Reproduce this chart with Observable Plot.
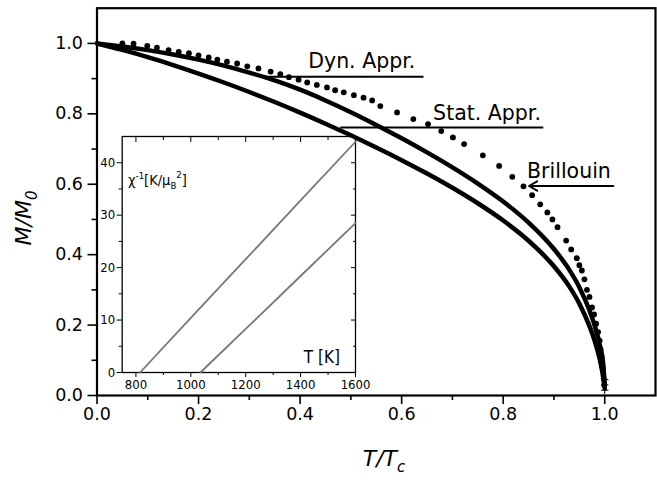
<!DOCTYPE html>
<html><head><meta charset="utf-8">
<script src="https://cdn.jsdelivr.net/npm/d3@7"></script>
<script src="https://cdn.jsdelivr.net/npm/@observablehq/plot@0.6"></script>
<style>
body{margin:0;background:#fff;}
#wrap{position:relative;width:657px;height:480px;background:#fff;}
#wrap svg{position:absolute;}
</style></head><body><div id="wrap"></div>
<script>
// Brillouin (dots)
const brillT = [0.05,0.072,0.099,0.118,0.141,0.161,0.181,0.200,0.220,0.237,0.256,0.276,0.296,0.318,0.342,0.361,0.378,0.397,0.414,0.433,0.453,0.469,0.486,0.506,0.525,0.542,0.558,0.591,0.623,0.652,0.678,0.701,0.723,0.760,0.792,0.818,0.840,0.857,0.873,0.887,0.897,0.907,0.924,0.934,0.945,0.950,0.955,0.960,0.965,0.970,0.975,0.979,0.983,0.987,0.990,0.992,0.994,0.996,0.998,0.999];
const brillM = [1.0,0.999,0.993,0.988,0.981,0.976,0.972,0.966,0.960,0.954,0.948,0.943,0.935,0.929,0.920,0.913,0.904,0.897,0.889,0.882,0.875,0.867,0.861,0.853,0.846,0.838,0.822,0.804,0.785,0.771,0.751,0.733,0.714,0.682,0.652,0.621,0.594,0.569,0.543,0.520,0.500,0.478,0.440,0.415,0.39,0.37,0.355,0.33,0.30,0.28,0.25,0.23,0.204,0.18,0.156,0.13,0.109,0.08,0.048,0.03];
// Dynamical approximation (upper solid)
const dynT = [0,0.05,0.1,0.15,0.2,0.25,0.3,0.35,0.4,0.45,0.5,0.55,0.6,0.65,0.7,0.75,0.8,0.85,0.9,0.93,0.95,0.97,0.98,0.99,0.997,1.0];
const dynM = [1.0,0.9915,0.981,0.9685,0.954,0.937,0.917,0.895,0.8685,0.838,0.8045,0.7685,0.7305,0.6905,0.648,0.602,0.551,0.491,0.416,0.3575,0.3075,0.2415,0.1995,0.1455,0.0895,0.03];
// Statistical approximation (lower solid)
const statT = [0,0.05,0.1,0.15,0.2,0.25,0.3,0.35,0.4,0.45,0.5,0.55,0.6,0.65,0.7,0.75,0.8,0.85,0.9,0.93,0.95,0.97,0.98,0.99,0.997,1.0];
const statM = [1.0,0.9815,0.961,0.9385,0.9145,0.889,0.862,0.8335,0.8035,0.772,0.739,0.7045,0.6685,0.6305,0.590,0.546,0.497,0.4395,0.367,0.310,0.261,0.197,0.156,0.104,0.0515,0.02];
// tail markers (+)
const tailT = [1.0,1.0,1.0];
const tailM = [0.045,0.03,0.015];
// annotations
const labelText = ["Dyn. Appr.","Stat. Appr.","Brillouin"];
const labelT = [0.416,0.662,0.847];
const labelM = [0.93,0.782,0.617];
const leaderT1 = [0.328,0.479];
const leaderT2 = [0.643,0.879];
const leaderM = [0.905,0.761];
const arrowT1 = [1.017], arrowT2 = [0.851], arrowM = [0.595];
// axes ticks
const xMajor = [0,0.2,0.4,0.6,0.8,1.0];
const xMinor = [0.1,0.3,0.5,0.7,0.9];
const yMajor = [0,0.2,0.4,0.6,0.8,1.0];
const yMinor = [0.1,0.3,0.5,0.7,0.9];
// inset: inverse susceptibility
const lineA_T = [815,1000,1200,1400,1600];
const lineA_chi = [0,10.4,21.6,32.8,44];
const lineB_T = [1035,1200,1400,1600];
const lineB_chi = [0,8.3,18.4,28.5];
const insetXMajor = [800,1000,1200,1400,1600];
const insetXMinor = [900,1100,1300,1500];
const insetYMajor = [0,10,20,30,40];
const insetYMinor = [5,15,25,35];

const zip = (a,b) => a.map((v,i)=>({x:v,y:b[i]}));
const brill = zip(brillT, brillM), dyn = zip(dynT, dynM), stat = zip(statT, statM), tail = zip(tailT, tailM);
const labels = labelText.map((t,i)=>({t, x:labelT[i], y:labelM[i]}));
const leaders = leaderT1.map((v,i)=>({x1:v, x2:leaderT2[i], y:leaderM[i]}));
const arrows = arrowT1.map((v,i)=>({x1:v, x2:arrowT2[i], y:arrowM[i]}));
const blank = () => "";
const SANS = "'DejaVu Sans', 'Liberation Sans', sans-serif";

const main = Plot.plot({
  width: 657, height: 480,
  marginLeft: 96.5, marginRight: 2, marginTop: 7.7, marginBottom: 85,
  x: {domain: [0, 1.1]}, y: {domain: [0, 1.1]},
  style: {fontFamily: SANS, fontSize: "17.5px", color: "#000", background: "transparent"},
  marks: [
    Plot.axisX(xMajor, {tickSize: 9, tickPadding: 3, tickFormat: d3.format(".1f"), strokeWidth: 1.6, label: null}),
    Plot.axisX(xMinor, {tickSize: 5, tickFormat: blank, strokeWidth: 1.6, label: null}),
    Plot.axisY(yMajor, {tickSize: 9, tickPadding: 5, tickFormat: d3.format(".1f"), strokeWidth: 1.6, label: null}),
    Plot.axisY(yMinor, {tickSize: 5, tickFormat: blank, strokeWidth: 1.6, label: null}),
    Plot.frame({strokeWidth: 2.2}),
    Plot.line(stat, {x: "x", y: "y", strokeWidth: 4.5, stroke: "#000", curve: "monotone-x"}),
    Plot.line(dyn, {x: "x", y: "y", strokeWidth: 4.5, stroke: "#000", curve: "monotone-x"}),
    Plot.dot(tail, {x: "x", y: "y", symbol: "plus", r: 2.5, stroke: "#000", strokeWidth: 1}),
    Plot.dot(brill, {x: "x", y: "y", r: 2.9, fill: "#000", stroke: null}),
    Plot.link(leaders, {x1: "x1", x2: "x2", y1: "y", y2: "y", strokeWidth: 2, stroke: "#000"}),
    Plot.arrow(arrows, {x1: "x1", x2: "x2", y1: "y", y2: "y", strokeWidth: 2, stroke: "#000", headLength: 7}),
    Plot.text(labels, {x: "x", y: "y", text: "t", textAnchor: "start", lineAnchor: "bottom", fontSize: 20.5, fill: "#000"})
  ]
});

const wrap = document.getElementById("wrap");
main.style.left = "0px"; main.style.top = "0px";
wrap.appendChild(main);

// axis titles with sub-scripts
const ms = d3.select(main);
const yl = ms.append("text").attr("transform", "translate(31,218) rotate(-90)")
  .attr("text-anchor", "middle").attr("font-style", "italic").attr("font-size", 22)
  .attr("font-family", SANS).attr("fill", "#000");
yl.append("tspan").text("M/M");
yl.append("tspan").attr("dy", 6).attr("font-size", 15).text("0");
const xl = ms.append("text").attr("x", 384).attr("y", 466)
  .attr("text-anchor", "middle").attr("font-style", "italic").attr("font-size", 22)
  .attr("font-family", SANS).attr("fill", "#000");
xl.append("tspan").text("T/T");
xl.append("tspan").attr("dy", 6).attr("font-size", 15).text("c");

// inset
const NARROW = "'Liberation Sans Narrow','DejaVu Sans Condensed',sans-serif";
const inset = Plot.plot({
  width: 265, height: 265, marginLeft: 25.7, marginRight: 6, marginTop: 8, marginBottom: 21,
  x: {domain: [750, 1600]}, y: {domain: [0, 45]},
  style: {fontFamily: NARROW, fontSize: "13px", color: "#000", background: "transparent", overflow: "visible"},
  marks: [
    Plot.axisX(insetXMajor, {anchor: "bottom", tickSize: 5, tickPadding: 2, tickFormat: d => String(d), label: null}),
    Plot.axisX(insetXMinor, {anchor: "bottom", tickSize: 3, tickFormat: blank, label: null}),
    Plot.axisX(insetXMajor, {anchor: "top", tickSize: -5, tickFormat: blank, label: null}),
    Plot.axisX(insetXMinor, {anchor: "top", tickSize: -3, tickFormat: blank, label: null}),
    Plot.axisY(insetYMajor, {anchor: "left", tickSize: 5, tickPadding: 2, tickFormat: d => String(d), label: null}),
    Plot.axisY(insetYMinor, {anchor: "left", tickSize: 3, tickFormat: blank, label: null}),
    Plot.axisY(insetYMajor, {anchor: "right", tickSize: -5, tickFormat: blank, label: null}),
    Plot.axisY(insetYMinor, {anchor: "right", tickSize: -3, tickFormat: blank, label: null}),
    Plot.frame({strokeWidth: 1.3}),
    Plot.line(zip(lineA_T, lineA_chi), {x: "x", y: "y", stroke: "#777", strokeWidth: 1.8}),
    Plot.line(zip(lineB_T, lineB_chi), {x: "x", y: "y", stroke: "#777", strokeWidth: 1.8})
  ]
});
inset.style.left = "96px"; inset.style.top = "128px";
wrap.appendChild(inset);
const is = d3.select(inset);
const il = is.append("text").attr("x", 32).attr("y", 57).attr("text-anchor", "start")
  .attr("font-size", 14.5).attr("fill", "#000").attr("font-family", NARROW);
il.append("tspan").text("χ");
il.append("tspan").attr("dy", -6).attr("font-size", 9.5).text("-1");
il.append("tspan").attr("dy", 6).text("[K/μ");
il.append("tspan").attr("dy", 4).attr("font-size", 9.5).text("B");
il.append("tspan").attr("dy", -11).attr("font-size", 9.5).text("2");
il.append("tspan").attr("dy", 7).text("]");
is.append("text").attr("x", 244).attr("y", 235).attr("text-anchor", "end")
  .attr("font-size", 17).attr("fill", "#000").attr("font-family", NARROW)
  .text("T [K]");
</script></body></html>
